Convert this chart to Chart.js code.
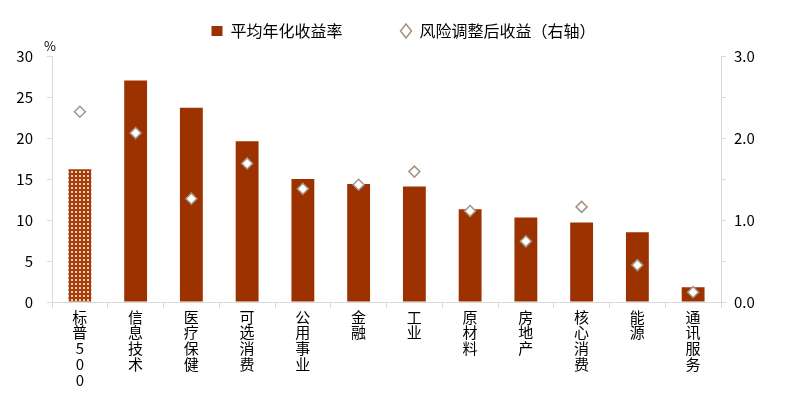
<!DOCTYPE html>
<html>
<head>
<meta charset="utf-8">
<script src="https://cdn.jsdelivr.net/npm/chart.js@4.4.1/dist/chart.umd.min.js"></script>
<style>
  html, body { margin: 0; padding: 0; background: #fff; }
  #wrap { width: 791px; height: 411px; }
</style>
</head>
<body>
<div id="wrap"><canvas id="chart" width="791" height="411"></canvas></div>
<script>
const categories = ['标普500', '信息技术', '医疗保健', '可选消费', '公用事业', '金融', '工业', '原材料', '房地产', '核心消费', '能源', '通讯服务'];
const annualReturn = [16.2, 27.0, 23.7, 19.6, 15.0, 14.4, 14.1, 11.3, 10.3, 9.7, 8.5, 1.8];
const riskAdjusted = [2.32, 2.06, 1.26, 1.69, 1.38, 1.43, 1.59, 1.11, 0.74, 1.16, 0.45, 0.12];
const leftTicks = [0, 5, 10, 15, 20, 25, 30];
const rightTicks = [0, 1, 2, 3];

const barColor = '#9b3200';
const diamondEdge = '#a39384';
const fontFamily = '"Noto Sans CJK SC", "Noto Sans", sans-serif';
const legendPad = 58;

// checkered fill for the index bar
function makePattern() {
  const p = document.createElement('canvas');
  p.width = 4; p.height = 4;
  const c = p.getContext('2d');
  c.fillStyle = '#f8cba6';
  c.fillRect(0, 0, 4, 4);
  c.fillStyle = '#a23d10';
  c.fillRect(1, 0, 2, 1);
  c.fillRect(0, 1, 1, 2);
  c.fillRect(3, 1, 1, 2);
  c.fillRect(1, 3, 2, 1);
  c.fillRect(1, 1, 2, 2);
  return document.getElementById('chart').getContext('2d').createPattern(p, 'repeat');
}
const pattern = makePattern();
const barFills = annualReturn.map((v, i) => i === 0 ? pattern : barColor);

// wide gap between legend items, but keep the legend band short
const legendPlace = {
  id: 'legendPlace',
  beforeInit(chart) {
    const fit = chart.legend.fit;
    chart.legend.fit = function () {
      fit.bind(chart.legend)();
      this.height = 46;
    };
  },
  afterLayout(chart) {
    chart.legend.top = 31 - legendPad - 8;
    chart.legend.left += 8;
    chart.legend.right += 8;
  }
};

const percentLabel = {
  id: 'percentLabel',
  afterDraw(chart) {
    const ctx = chart.ctx;
    const y = chart.scales.y;
    ctx.save();
    ctx.font = '13px ' + fontFamily;
    ctx.fillStyle = '#000';
    ctx.textAlign = 'center';
    ctx.textBaseline = 'middle';
    ctx.fillText('%', y.right - 2, y.top - 10);
    ctx.restore();
  }
};

Chart.defaults.font.family = fontFamily;
Chart.defaults.color = '#000';

new Chart(document.getElementById('chart'), {
  data: {
    labels: categories.map(c => c.split('')),
    datasets: [
      {
        type: 'line',
        label: '风险调整后收益（右轴）',
        data: riskAdjusted,
        yAxisID: 'y1',
        showLine: false,
        pointStyle: 'rectRot',
        pointRadius: 5.5,
        pointBackgroundColor: '#fff',
        pointBorderColor: diamondEdge,
        pointBorderWidth: 1.5,
        backgroundColor: '#fff',
        borderColor: diamondEdge,
        order: 0
      },
      {
        type: 'bar',
        label: '平均年化收益率',
        data: annualReturn,
        yAxisID: 'y',
        backgroundColor: barFills,
        categoryPercentage: 1,
        barPercentage: 0.41,
        order: 1
      }
    ]
  },
  options: {
    responsive: false,
    animation: false,
    layout: { padding: { top: 10, left: 0, right: 0, bottom: 0 } },
    plugins: {
      legend: {
        reverse: true,
        labels: {
          usePointStyle: true,
          pointStyleWidth: 11,
          boxHeight: 10,
          padding: legendPad,
          font: { size: 16 },
          generateLabels(chart) {
            const items = Chart.defaults.plugins.legend.labels.generateLabels(chart);
            items.forEach(it => {
              if (it.datasetIndex === 1) {
                it.fillStyle = barColor; it.strokeStyle = barColor; it.pointStyle = 'rect';
              } else {
                it.fillStyle = '#fff'; it.strokeStyle = diamondEdge; it.lineWidth = 1.5; it.pointStyle = 'rectRot';
              }
            });
            return items;
          }
        }
      },
      tooltip: { enabled: false }
    },
    scales: {
      x: {
        offset: true,
        grid: { drawOnChartArea: false, offset: true, tickLength: 6, color: '#d9d9d9' },
        border: { color: '#d9d9d9' },
        ticks: { maxRotation: 0, minRotation: 0, padding: 1, font: { size: 15, lineHeight: 1.05 } },
        afterFit(s) { s.height = 109; }
      },
      y: {
        position: 'left',
        min: 0, max: 30,
        afterBuildTicks(s) { s.ticks = leftTicks.map(v => ({ value: v })); },
        grid: { drawOnChartArea: false, tickLength: 5, color: '#d9d9d9' },
        border: { color: '#d9d9d9' },
        ticks: { padding: 14, font: { size: 15 } },
        afterFit(s) { s.width = 52; }
      },
      y1: {
        position: 'right',
        min: 0, max: 3,
        ticks: {
          stepSize: 0.5,
          padding: 8,
          font: { size: 15 },
          callback: v => rightTicks.includes(v) ? v.toFixed(1) : ''
        },
        grid: { drawOnChartArea: false, tickLength: 5, color: '#d9d9d9' },
        border: { color: '#d9d9d9' },
        afterFit(s) { s.width = 70; }
      }
    }
  },
  plugins: [legendPlace, percentLabel]
});
</script>
</body>
</html>
